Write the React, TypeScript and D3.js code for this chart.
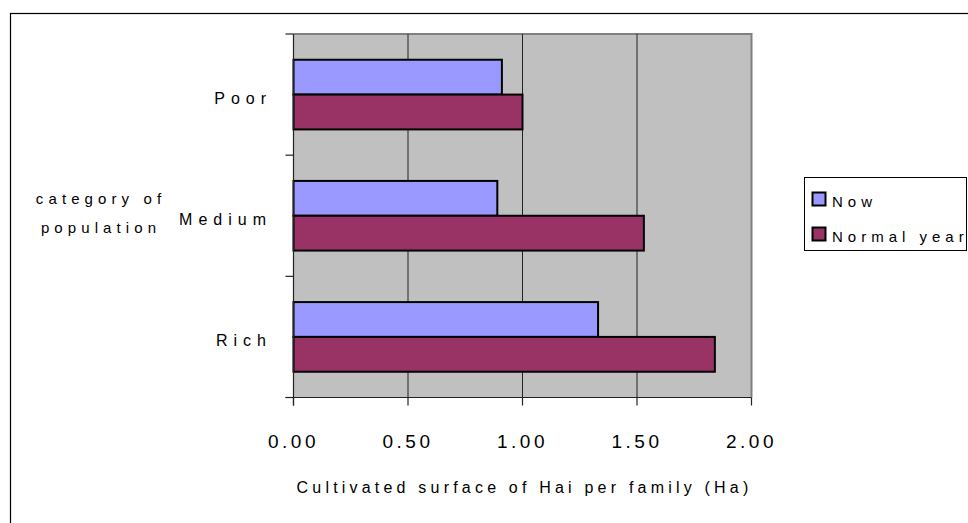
import React from "react";
import * as d3 from "d3";

const categories = ["Poor", "Medium", "Rich"];
const seriesNames = ["Now", "Normal year"];
const nowValues = [0.91, 0.89, 1.33];
const normalYearValues = [1.0, 1.53, 1.84];
const xTicks = [0, 0.5, 1.0, 1.5, 2.0];
const xTitle = "Cultivated surface of Hai per family (Ha)";
const yTitleLines = ["category of", "population"];

const W = 968;
const H = 523;
const FONT = "'Liberation Sans', Arial, Helvetica, sans-serif";
const COLORS = ["#9999FF", "#993366"];

const plot = { left: 293.5, right: 751.5, top: 34, bottom: 397.5 };

export default function App() {
  const x = d3.scaleLinear().domain([0, 2]).range([plot.left, plot.right]);
  const y = d3
    .scaleBand<string>()
    .domain(categories)
    .range([plot.top, plot.bottom])
    .paddingInner(0.425)
    .paddingOuter(0.2125);
  const inner = d3.scaleBand<string>().domain(seriesNames).range([0, y.bandwidth()]);
  const series = [nowValues, normalYearValues];
  const step = y.step();
  const catBoundaries = d3.range(categories.length + 1).map((i) => plot.top + i * step);

  return (
    <svg
      width={W}
      height={H}
      style={{ position: "absolute", left: 0, top: 0, background: "#fff" }}
      fontFamily={FONT}
    >
      {/* chart frame */}
      <rect x={10.5} y={13.5} width={1000} height={1000} fill="#fff" stroke="#000" strokeWidth={1.2} />

      {/* plot area */}
      <rect
        x={plot.left}
        y={plot.top}
        width={plot.right - plot.left}
        height={plot.bottom - plot.top}
        fill="#C0C0C0"
      />
      <path
        d={`M${plot.left},${plot.top}H${plot.right}V${plot.bottom}`}
        fill="none"
        stroke="#808080"
        strokeWidth={2}
      />

      {/* vertical gridlines */}
      {xTicks.slice(1, -1).map((t) => (
        <line key={t} x1={x(t)} x2={x(t)} y1={plot.top} y2={plot.bottom} stroke="#222" strokeWidth={1} />
      ))}

      {/* bars */}
      {categories.map((c, i) => (
        <g key={c} transform={`translate(0,${y(c)})`}>
          {series.map((vals, s) => (
            <rect
              key={s}
              x={x(0)}
              y={inner(seriesNames[s])}
              width={x(vals[i]) - x(0)}
              height={inner.bandwidth()}
              fill={COLORS[s]}
              stroke="#000"
              strokeWidth={2}
            />
          ))}
        </g>
      ))}

      {/* category axis */}
      <line x1={plot.left} x2={plot.left} y1={plot.top} y2={plot.bottom + 8} stroke="#222" strokeWidth={1.2} />
      {catBoundaries.map((b, i) => (
        <line key={i} x1={plot.left - 8} x2={plot.left} y1={b} y2={b} stroke="#222" strokeWidth={1.2} />
      ))}
      {categories.map((c) => (
        <text
          key={c}
          x={272}
          y={(y(c) as number) + y.bandwidth() / 2 + 9}
          textAnchor="end"
          fontSize={16}
          letterSpacing={6}
          fill="#000"
        >
          {c}
        </text>
      ))}
      <text textAnchor="middle" fontSize={15} letterSpacing={5.1} fill="#000">
        <tspan x={101} y={204}>{yTitleLines[0]}</tspan>
        <tspan x={101} y={233}>{yTitleLines[1]}</tspan>
      </text>

      {/* value axis */}
      <line x1={plot.left - 8} x2={plot.right} y1={plot.bottom} y2={plot.bottom} stroke="#222" strokeWidth={1.2} />
      {xTicks.map((t) => (
        <g key={t}>
          <line x1={x(t)} x2={x(t)} y1={plot.bottom} y2={plot.bottom + 8} stroke="#222" strokeWidth={1.2} />
          <text x={x(t)} y={448} textAnchor="middle" fontSize={19} letterSpacing={3.5} fill="#000">
            {d3.format(".2f")(t)}
          </text>
        </g>
      ))}
      <text x={(plot.left + plot.right) / 2 + 2} y={493} textAnchor="middle" fontSize={16} letterSpacing={4.2} fill="#000">
        {xTitle}
      </text>

      {/* legend */}
      <rect x={804.5} y={177.5} width={162} height={73} fill="#fff" stroke="#000" strokeWidth={1} />
      {seriesNames.map((name, s) => (
        <g key={name} transform={`translate(0,${s * 35})`}>
          <rect x={812.5} y={192.5} width={13} height={13} fill={COLORS[s]} stroke="#000" strokeWidth={2} />
          <text x={832} y={207} fontSize={15} letterSpacing={5} fill="#000">
            {name}
          </text>
        </g>
      ))}
    </svg>
  );
}
